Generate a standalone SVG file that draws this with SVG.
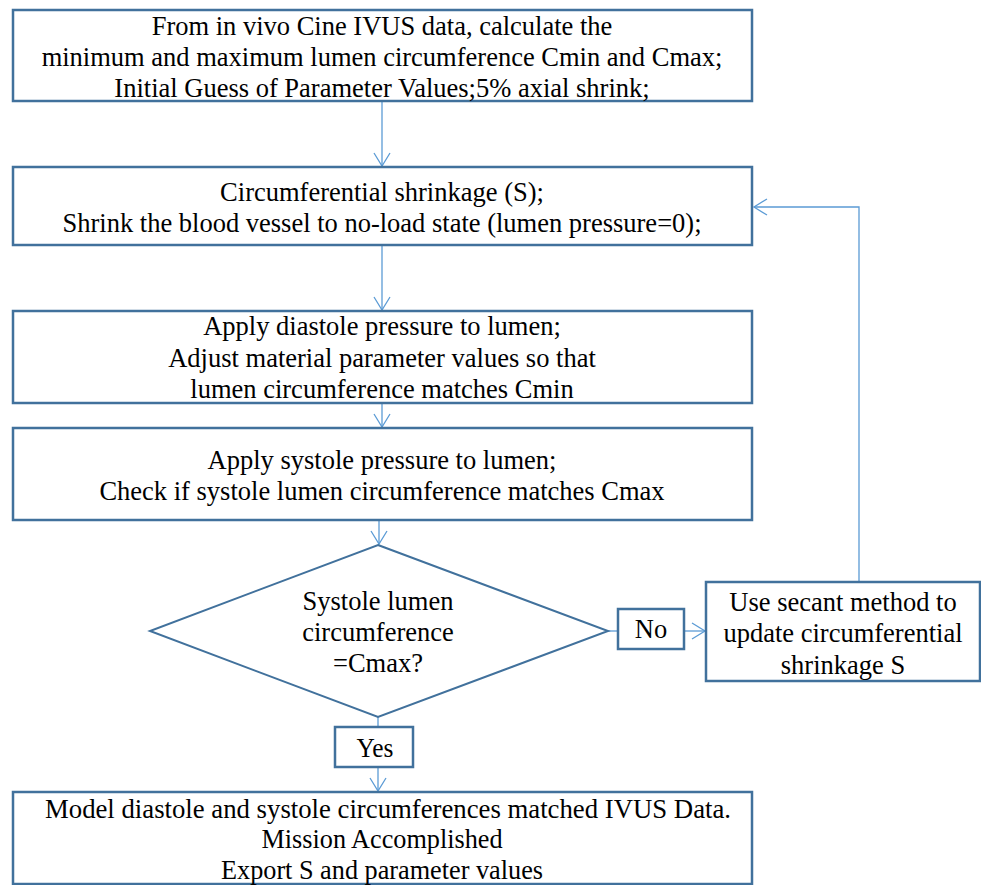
<svg xmlns="http://www.w3.org/2000/svg" width="981" height="885" viewBox="0 0 981 885">
<style>
.box{fill:#fff;stroke:#41719c;stroke-width:2.5}
.dia{fill:#fff;stroke:#41719c;stroke-width:2}
.con{fill:none;stroke:#5b9bd5;stroke-width:1.3}
text{font-family:"Liberation Serif","Times New Roman",serif;font-size:26.5px;fill:#000;text-anchor:middle}
.cond{font-size:28px}
</style>
<defs>
<marker id="arr" markerUnits="userSpaceOnUse" markerWidth="20" markerHeight="20" viewBox="-14 -10 16 20" refX="0" refY="0" orient="auto">
<path d="M-13,-8 L0,0 L-13,8" fill="none" stroke="#5b9bd5" stroke-width="1.3"/>
</marker>
</defs>
<rect width="981" height="885" fill="#fff"/>
<g id="connectors">
<line class="con" x1="382" y1="102" x2="382" y2="166" marker-end="url(#arr)"/>
<line class="con" x1="382" y1="246" x2="382" y2="310" marker-end="url(#arr)"/>
<line class="con" x1="382" y1="404" x2="382" y2="427" marker-end="url(#arr)"/>
<line class="con" x1="379" y1="521" x2="379" y2="544" marker-end="url(#arr)"/>
<line class="con" x1="608" y1="631" x2="618" y2="631"/>
<line class="con" x1="684" y1="631" x2="705" y2="631" marker-end="url(#arr)"/>
<polyline class="con" points="859,582 859,207 754,207" marker-end="url(#arr)"/>
<line class="con" x1="378" y1="717" x2="378" y2="727"/>
<line class="con" x1="378" y1="767" x2="378" y2="791" marker-end="url(#arr)"/>
</g>
<g id="n1">
<rect class="box" x="13" y="10" width="739" height="91"/>
<text x="382" y="35">From in vivo Cine IVUS data, calculate the</text>
<text x="382" y="66">minimum and maximum lumen circumference Cmin and Cmax;</text>
<text x="382" y="97">Initial Guess of Parameter Values;5% axial shrink;</text>
</g>
<g id="n2">
<rect class="box" x="13" y="167" width="739" height="78"/>
<text x="382" y="201">Circumferential shrinkage (S);</text>
<text x="382" y="232">Shrink the blood vessel to no-load state (lumen pressure=0);</text>
</g>
<g id="n3">
<rect class="box" x="13" y="311" width="739" height="92"/>
<text x="382" y="335">Apply diastole pressure to lumen;</text>
<text x="382" y="367">Adjust material parameter values so that</text>
<text x="382" y="398">lumen circumference matches Cmin</text>
</g>
<g id="n4">
<rect class="box" x="13" y="428" width="739" height="92"/>
<text x="382" y="469">Apply systole pressure to lumen;</text>
<text x="382" y="500">Check if systole lumen circumference matches Cmax</text>
</g>
<g id="n5">
<polygon class="dia" points="378,545 608,631 378,717 150,631"/>
<text x="378" y="610">Systole lumen</text>
<text x="378" y="641">circumference</text>
<text x="378" y="672">=Cmax?</text>
</g>
<g id="no">
<rect class="box" x="618" y="609" width="66" height="40"/>
<text x="651" y="638">No</text>
</g>
<g id="n6">
<rect class="box" x="706" y="582" width="274" height="99"/>
<text x="843" y="611">Use secant method to</text>
<text x="843" y="642">update circumferential</text>
<text x="843" y="674">shrinkage S</text>
</g>
<g id="yes">
<rect class="box" x="335" y="727" width="78" height="40"/>
<text class="cond" x="375" y="757" textLength="37" lengthAdjust="spacingAndGlyphs">Yes</text>
</g>
<g id="n7">
<rect class="box" x="13" y="792" width="739" height="92"/>
<text class="cond" x="388" y="818" textLength="686" lengthAdjust="spacingAndGlyphs">Model diastole and systole circumferences matched IVUS Data.</text>
<text class="cond" x="382" y="848" textLength="241" lengthAdjust="spacingAndGlyphs">Mission Accomplished</text>
<text class="cond" x="382" y="879" textLength="322" lengthAdjust="spacingAndGlyphs">Export S and parameter values</text>
</g>
</svg>
